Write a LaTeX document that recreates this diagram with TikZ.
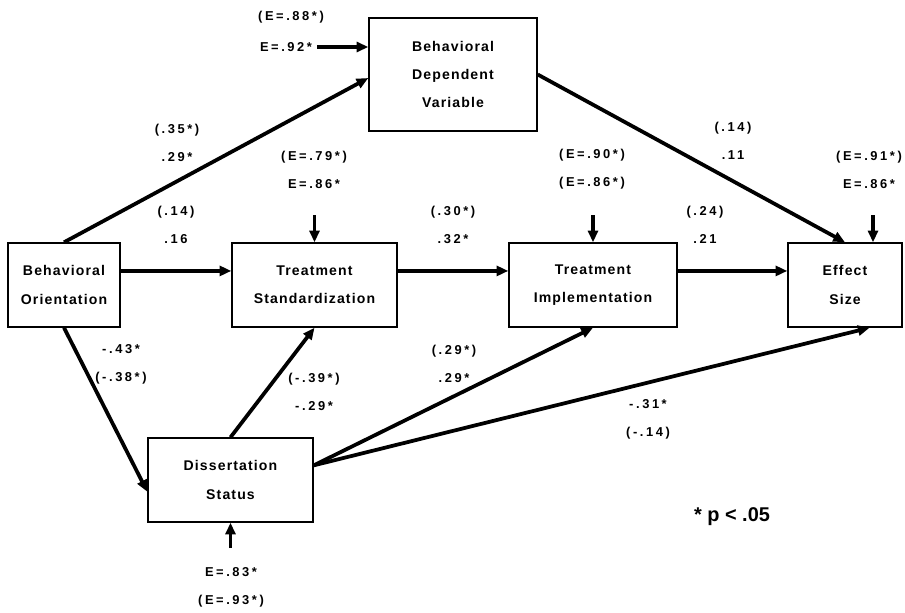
\documentclass[tikz,border=0pt]{standalone}
\usepackage{fontspec}
\setsansfont{Liberation Sans}
\newfontfamily\boxfont[LetterSpace=8]{Liberation Sans}
\newfontfamily\numfont[LetterSpace=20]{Liberation Sans}
\usetikzlibrary{arrows.meta}
\tikzset{every node/.style={inner sep=0pt,align=center}}
\tikzset{b/.style={rectangle,draw,line width=1.2pt,font=\boxfont\bfseries\fontsize{12}{24}\selectfont}}
\tikzset{n/.style={font=\numfont\bfseries\fontsize{11}{24}\selectfont}}

\begin{document}
\begin{tikzpicture}[x=0.03cm,y=-0.03cm,line width=3.2pt,>={Triangle[length=10pt,width=8.5pt]}]
      \useasboundingbox (0,0) rectangle (905,612);
      % boxes
      \node[b,minimum width=5.04cm,minimum height=3.39cm] (bdv) at (453,74.5) {Behavioral\\Dependent\\Variable};
      \node[b,minimum width=3.36cm,minimum height=2.52cm] (bo) at (64,285) {Behavioral\\Orientation};
      \node[b,minimum width=4.95cm,minimum height=2.52cm] (ts) at (314.5,285) {Treatment\\Standardization};
      \node[b,minimum width=5.04cm,minimum height=2.52cm] (ti) at (593,285) {Treatment\\Implementation};
      \node[b,minimum width=3.42cm,minimum height=2.52cm] (es) at (845,285) {Effect\\Size};
      \node[b,minimum width=4.95cm,minimum height=2.52cm] (ds) at (230.5,480) {Dissertation\\Status};
      % error terms
      \node[n] (ebdvp) at (291,17) {(E=.88*)};
      \node[n] (ebdv) at (286,47) {E=.92*};
      \node[n] (ets) at (314,169.5) {(E=.79*)\\E=.86*};
      \node[n] (eti) at (592,169.5) {(E=.90*)\\(E=.86*)};
      \node[n] (ees) at (869,169.5) {(E=.91*)\\E=.86*};
      \node[n] (eds) at (231,587.5) {E=.83*\\(E=.93*)};
      \coordinate (uts) at (314.5,215);
      \coordinate (uti) at (593,215);
      \coordinate (ues) at (873,215);
      \coordinate (uds) at (230.5,548);
      % path weights
      \node[n] (w1) at (177,142.5) {(.35*)\\.29*};
      \node[n] (w2) at (176,225) {(.14)\\.16};
      \node[n] (w3) at (453,225) {(.30*)\\.32*};
      \node[n] (w4) at (733,141) {(.14)\\.11};
      \node[n] (w5) at (705,225) {(.24)\\.21};
      \node[n] (w6) at (121,364) {-.43*\\(-.38*)};
      \node[n] (w7) at (314,392) {(-.39*)\\-.29*};
      \node[n] (w8) at (454,364) {(.29*)\\.29*};
      \node[n] (w9) at (648,419.5) {-.31*\\(-.14)};
      \node[font=\fontsize{17}{17}\selectfont\sffamily\bfseries] (leg) at (732,517) {* p < .05};
        \draw[->] ([xshift=3pt]ebdv.east) -- (ebdv.east -| bdv.west);
        \draw[->] (bo.north) -- ([yshift=-3pt]bdv.west);
        \draw[->] (bdv.east) -- (es.north);
        \draw[->] ([yshift=12pt]bo.east) -- ([yshift=12pt]ts.west);
        \draw[->] ([yshift=12pt]ts.east) -- ([yshift=12pt]ti.west);
        \draw[->] ([yshift=12pt]ti.east) -- ([yshift=12pt]es.west);
        \draw[->] (uts) -- (ts.north);
        \draw[->] (uti) -- (ti.north);
        \draw[->] (ues) -- (ues |- es.north);
        \draw[->] (bo.south) -- ([yshift=-10pt]ds.west);
        \draw[->] (ds.north) -- (ts.south);
        \draw[->] ([yshift=12.5pt]ds.east) -- (ti.south);
        \draw[->] ([yshift=12.5pt]ds.east) -- ([xshift=21pt]es.south);
        \draw[->] (uds) -- (ds.south);
    \end{tikzpicture}
\end{document}
